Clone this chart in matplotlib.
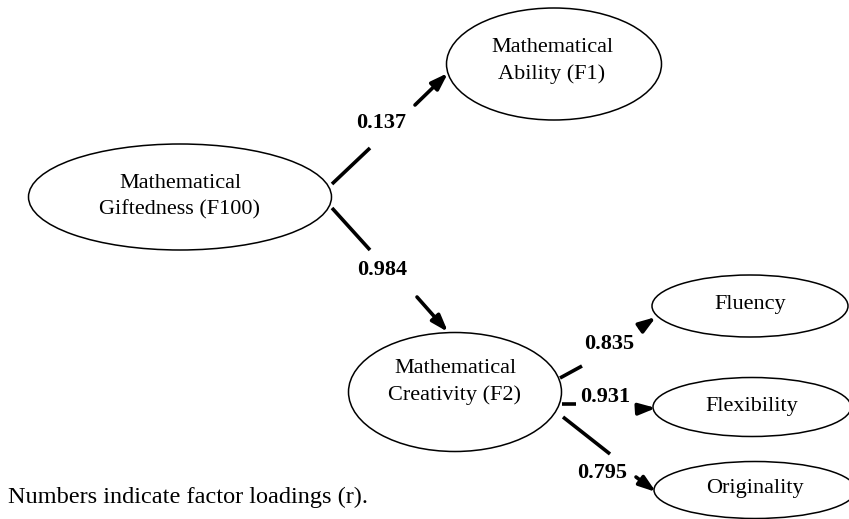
import matplotlib.pyplot as plt
from matplotlib.patches import Ellipse

# nodes of the path model
node_names = [
    "Mathematical\nGiftedness (F100)",
    "Mathematical\nAbility (F1)",
    "Mathematical\nCreativity (F2)",
    "Fluency",
    "Flexibility",
    "Originality",
]
# paths (source index, target index) and their factor loadings
path_from = [0, 0, 2, 2, 2]
path_to = [1, 2, 3, 4, 5]
loadings = [0.137, 0.984, 0.835, 0.931, 0.795]
note = "Numbers indicate factor loadings (r)."

# layout in pixel space (x, y, width, height)
node_boxes = [
    (180, 197, 303, 106),
    (554, 64, 215, 112),
    (455, 392, 213, 119),
    (750, 306, 196, 62),
    (752, 407, 198, 59),
    (755, 490, 202, 57),
]
text_offsets = [(0, 0), (-2, -3), (0, -10), (0, -2), (0, 0), (0, -2)]
# each path: first segment, arrow segment, label position
path_layout = [
    ((332, 184), (370, 148), (415, 105), (448, 73), (381, 123)),
    ((332, 208), (370, 250), (417, 297), (448, 332), (382, 270)),
    ((560, 378), (582, 366), (640, 328), (656, 317), (609, 344)),
    ((562, 404), (576, 404), (640, 409), (656, 408), (605, 397)),
    ((563, 417), (610, 454), (636, 477), (656, 492), (602, 473)),
]

plt.rcParams["font.family"] = ["Liberation Serif", "DejaVu Serif"]

fig = plt.figure(figsize=(8.49, 5.19), dpi=100)
ax = fig.add_axes([0, 0, 1, 1])
ax.set_xlim(0, 849)
ax.set_ylim(519, 0)
ax.axis("off")

for name, (x, y, w, h), (dx, dy) in zip(node_names, node_boxes, text_offsets):
    ax.add_patch(Ellipse((x, y), w, h, fill=False, edgecolor="black", lw=1.1))
    ax.text(x + dx, y + dy, name, ha="center", va="center", fontsize=16,
            linespacing=1.5)

for src, dst, r, (p0, p1, q0, q1, lab) in zip(path_from, path_to, loadings, path_layout):
    ax.plot([p0[0], p1[0]], [p0[1], p1[1]], color="black", lw=2.6,
            solid_capstyle="butt")
    ax.annotate("", xy=q1, xytext=q0,
                arrowprops=dict(arrowstyle="-|>,head_length=0.5,head_width=0.17",
                                color="black", lw=2.6,
                                mutation_scale=20, shrinkA=0, shrinkB=0))
    ax.text(lab[0], lab[1], f"{r:.3f}", ha="center", va="center",
            fontsize=16, fontweight="bold")

ax.text(8, 497, note, ha="left", va="center", fontsize=17.5)

plt.savefig("out.png", dpi=100)
